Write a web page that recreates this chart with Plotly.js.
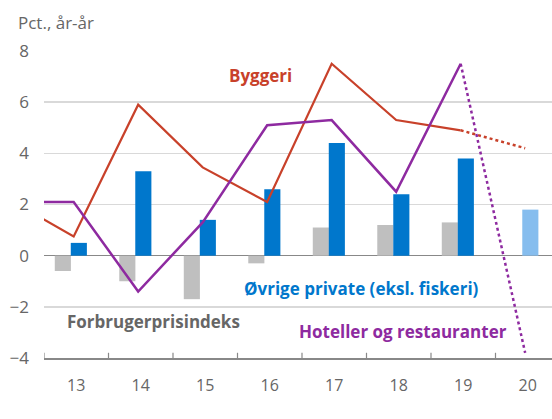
<!DOCTYPE html>
<html>
<head>
<meta charset="utf-8">
<script src="https://cdn.plot.ly/plotly-3.0.1.min.js"></script>
<style>html,body{margin:0;padding:0;background:#fff;}#chart{width:552px;height:419px;}</style>
</head>
<body>
<div id="chart"></div>
<script>
// Data
var years = [13, 14, 15, 16, 17, 18, 19, 20];
var cpi = [-0.6, -1.0, -1.7, -0.3, 1.1, 1.2, 1.3, null];
var otherPrivate = [0.5, 3.3, 1.4, 2.6, 4.4, 2.4, 3.8, 1.8];
var lineYears = [12, 13, 14, 15, 16, 17, 18, 19];
var construction = [2.2, 0.75, 5.9, 3.45, 2.1, 7.5, 5.3, 4.9];
var hotels = [2.1, 2.1, -1.4, 1.3, 5.1, 5.3, 2.5, 7.5];
var forecastYears = [19, 20];
var constructionForecast = [4.9, 4.2];
var hotelsForecast = [7.5, -3.8];
var xTickVals = [13, 14, 15, 16, 17, 18, 19, 20];
var xTickText = ['13', '14', '15', '16', '17', '18', '19', '20'];
var yTickVals = [-4, -2, 0, 2, 4, 6, 8];

var lineShift = -0.04;
function shift(a) { return a.map(function (v) { return v + lineShift; }); }

var RED = '#C8412A', PURPLE = '#8E2AA0', BLUE = '#0077CC', LIGHTBLUE = '#86BDEE', GREY = '#BFBFBF', TXT = '#666666';
var FONT = '"Open Sans", Lato, sans-serif';

var blueColors = years.map(function (y) { return y === 20 ? LIGHTBLUE : BLUE; });

var traces = [
  {type: 'bar', x: years, y: cpi, marker: {color: GREY}, width: 0.25, offset: -0.333, hoverinfo: 'none'},
  {type: 'bar', x: years, y: otherPrivate, marker: {color: blueColors}, width: 0.25, offset: -0.085, hoverinfo: 'none'},
  {type: 'scatter', mode: 'lines', x: shift(lineYears), y: construction, line: {color: RED, width: 2.2}, hoverinfo: 'none'},
  {type: 'scatter', mode: 'lines', x: shift(forecastYears), y: constructionForecast, line: {color: RED, width: 2.5, dash: 'dot'}, hoverinfo: 'none'},
  {type: 'scatter', mode: 'lines', x: shift(lineYears), y: hotels, line: {color: PURPLE, width: 2.5}, hoverinfo: 'none'},
  {type: 'scatter', mode: 'lines', x: shift(forecastYears), y: hotelsForecast, line: {color: PURPLE, width: 2.5, dash: 'dot'}, hoverinfo: 'none'}
];

var layout = {
  width: 552, height: 419,
  margin: {l: 44, r: 0, t: 51, b: 61},
  paper_bgcolor: '#fff', plot_bgcolor: '#fff',
  showlegend: false,
  barmode: 'overlay',
  font: {family: FONT, color: TXT, size: 16},
  xaxis: {
    range: [12.5, 20.376],
    tickvals: xTickVals, ticktext: xTickText,
    showgrid: false, zeroline: false,
    showline: true, linecolor: '#888888', linewidth: 1.5,
    ticks: '', ticklabelstandoff: 12,
    tickfont: {size: 16, color: TXT}
  },
  yaxis: {
    range: [-4, 8],
    tickvals: yTickVals,
    showgrid: true, gridcolor: '#D9D9D9', gridwidth: 1.5,
    zeroline: true, zerolinecolor: '#888888', zerolinewidth: 1.5,
    showline: false, ticks: '', ticklabelstandoff: 14,
    tickfont: {size: 17, color: TXT}
  },
  shapes: [13, 14, 15, 16, 17, 18, 19, 20].map(function (c) {
    return {type: 'line', xref: 'x', yref: 'paper', x0: c - 0.5, x1: c - 0.5, y0: 0, y1: 0.017,
            line: {color: '#888888', width: 1.2}};
  }),
  annotations: [
    {xref: 'paper', yref: 'paper', x: -0.055, y: 1.094, xanchor: 'left', yanchor: 'middle', showarrow: false,
     text: 'Pct., år-år', font: {size: 17, color: TXT}},
    {xref: 'x', yref: 'y', x: 15.33, y: 7.06, xanchor: 'left', yanchor: 'middle', showarrow: false,
     text: '<b>Byggeri</b>', font: {size: 17, color: RED}},
    {xref: 'x', yref: 'y', x: 15.57, y: -1.29, xanchor: 'left', yanchor: 'middle', showarrow: false,
     text: '<b>Øvrige private (eksl. fiskeri)</b>', font: {size: 17, color: BLUE}},
    {xref: 'x', yref: 'y', x: 12.82, y: -2.56, xanchor: 'left', yanchor: 'middle', showarrow: false,
     text: '<b>Forbrugerprisindeks</b>', font: {size: 17, color: TXT}},
    {xref: 'x', yref: 'y', x: 16.42, y: -2.95, xanchor: 'left', yanchor: 'middle', showarrow: false,
     text: '<b>Hoteller og restauranter</b>', font: {size: 17, color: PURPLE}}
  ]
};

Plotly.newPlot('chart', traces, layout, {staticPlot: true, displayModeBar: false});
</script>
</body>
</html>
